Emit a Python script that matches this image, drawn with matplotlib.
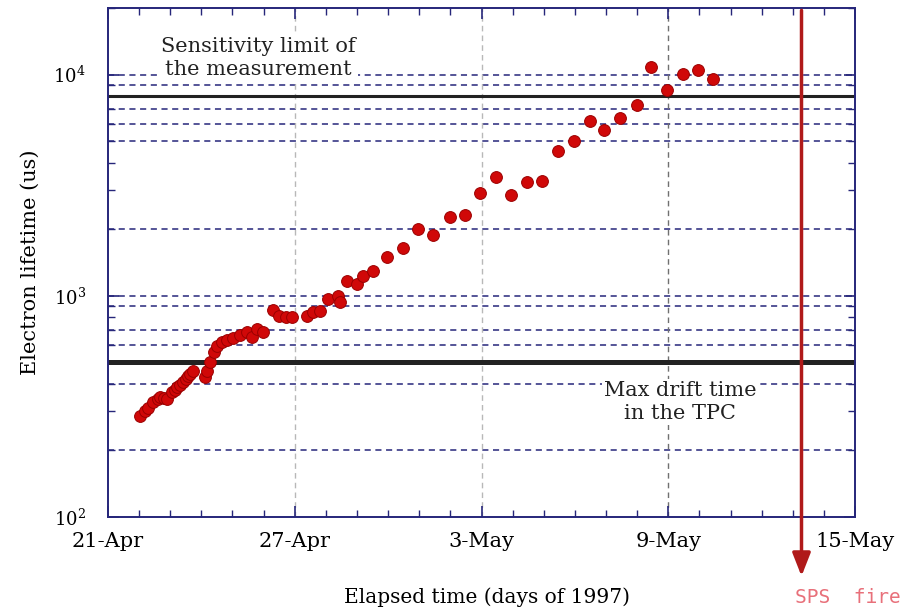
import pandas as pd
import matplotlib
matplotlib.use('Agg')
import matplotlib.pyplot as plt
import matplotlib.dates as mdates
from matplotlib.ticker import LogLocator, NullFormatter, FixedLocator

plt.rcParams['font.family'] = ['DejaVu Serif']
plt.rcParams['mathtext.fontset'] = 'dejavuserif'

# Elapsed days since 21-Apr-1997 and electron lifetime (us)
DAYS = [1.03, 1.19, 1.30, 1.45, 1.60, 1.67, 1.80, 1.90, 2.06, 2.15, 2.22, 2.33, 2.41,
        2.50, 2.57, 2.65, 2.73, 3.12, 3.18, 3.28, 3.41, 3.50, 3.67, 3.83, 4.02, 4.24,
        4.47, 4.63, 4.79, 4.98, 5.31, 5.50, 5.72, 5.92, 6.40, 6.59, 6.82, 7.07, 7.40,
        7.46, 7.68, 8.01, 8.20, 8.52, 8.97, 9.49, 9.97, 10.45, 11.00, 11.48, 11.96,
        12.48, 12.96, 13.47, 13.95, 14.47, 14.98, 15.47, 15.95, 16.46, 16.98, 17.46,
        17.97, 18.46, 18.97, 19.45]
LIFETIME = [285, 300, 312, 330, 342, 347, 345, 340, 366, 375, 385, 395, 406,
            420, 433, 445, 456, 428, 456, 501, 556, 592, 618, 631, 644, 665,
            686, 651, 708, 686, 863, 811, 803, 803, 811, 845, 855, 968, 1000,
            940, 1170, 1134, 1233, 1300, 1503, 1652, 1995, 1874, 2264, 2310, 2910,
            3436, 2850, 3265, 3297, 4516, 5010, 6180, 5623, 6380, 7310, 10870,
            8555, 10100, 10540, 9590]

START = pd.Timestamp('1997-04-21')
TICK_DAYS = [0, 6, 12, 18, 24]
TICK_LABELS = ['21-Apr', '27-Apr', '3-May', '9-May', '15-May']
GRID_LEVELS = [200, 400, 600, 700, 900, 1000, 2000, 5000, 6000, 7000, 9000, 10000]
SENSITIVITY = 8000
MAX_DRIFT = 500
SPS_FIRE_DAY = 22.28

NAVY = '#26267a'

def to_date(d):
    return mdates.date2num(START + pd.Timedelta(days=d))

fig = plt.figure(figsize=(9.05, 6.10), dpi=100)
ax = fig.add_axes([0.1193, 0.1525, 0.8255, 0.8344])

xs = [to_date(d) for d in DAYS]
ax.set_yscale('log')
ax.set_ylim(100, 20000)
ax.set_xlim(to_date(0), to_date(24))

# horizontal dashed grid
for lv in GRID_LEVELS:
    ax.axhline(lv, color=NAVY, lw=1.1, ls=(0, (4, 3)), zorder=1)
# vertical grid at the date ticks
for d, c in zip(TICK_DAYS[1:4], ['#b8b8b8', '#b8b8b8', '#707070']):
    ax.axvline(to_date(d), color=c, lw=1.0, ls=(0, (4, 3)), zorder=1)

ax.axhline(SENSITIVITY, color='#222222', lw=2.2, zorder=2)
ax.axhline(MAX_DRIFT, color='#222222', lw=3.6, zorder=2)

ax.plot(xs, LIFETIME, 'o', color='#d00808', mec='#9a0000', mew=0.7, ms=8.5, zorder=4)

box = dict(facecolor='white', edgecolor='none', pad=1.5)
ax.text(0.201, 0.902, 'Sensitivity limit of\nthe measurement', transform=ax.transAxes,
        ha='center', va='center', fontsize=15, color='#222222', linespacing=1.3,
        bbox=box, zorder=3)
ax.text(0.766, 0.226, 'Max drift time\nin the TPC', transform=ax.transAxes,
        ha='center', va='center', fontsize=15, color='#222222', linespacing=1.3,
        bbox=box, zorder=3)

# ticks
ax.set_xticks([to_date(d) for d in TICK_DAYS])
ax.set_xticklabels(TICK_LABELS, fontsize=15)
ax.xaxis.set_minor_locator(FixedLocator([to_date(d) for d in range(25)]))
ax.yaxis.set_major_locator(LogLocator(base=10, numticks=10))
ax.yaxis.set_minor_locator(LogLocator(base=10, subs=range(2, 10), numticks=20))
ax.yaxis.set_minor_formatter(NullFormatter())
ax.tick_params(axis='both', which='both', direction='in', top=True, right=True,
               color=NAVY)
ax.tick_params(axis='both', which='major', length=8, width=1.2)
ax.tick_params(axis='both', which='minor', length=5, width=1.0)
ax.tick_params(axis='x', which='major', pad=11)
ax.tick_params(axis='y', which='major', pad=16, labelsize=13)
for s in ax.spines.values():
    s.set_color(NAVY)
    s.set_linewidth(1.4)

ax.set_ylabel('Electron lifetime (us)', fontsize=15, labelpad=10)
fig.text(0.538, 0.021, 'Elapsed time (days of 1997)', ha='center', va='center',
         fontsize=14.5)

# SPS fire arrow
ax.annotate('', xy=(to_date(SPS_FIRE_DAY), 54), xytext=(to_date(SPS_FIRE_DAY), 19500),
            arrowprops=dict(arrowstyle='-|>,head_length=1.4,head_width=0.55',
                            color='#b01a1a', lw=2.5, shrinkA=0, shrinkB=0),
            annotation_clip=False, zorder=5)
fig.text(0.878, 0.021, 'SPS  fire', ha='left', va='center', fontsize=14,
         color='#e8707a', family='DejaVu Sans Mono')

fig.savefig('out.png', dpi=100)
